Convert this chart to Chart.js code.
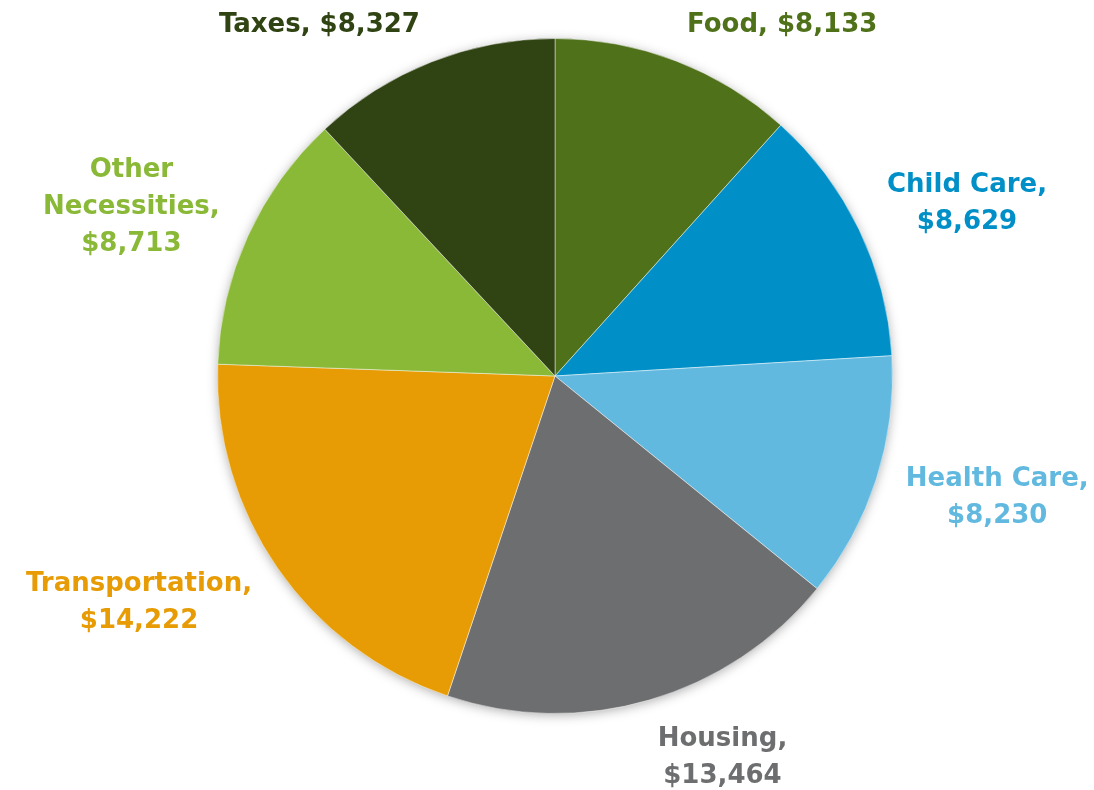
<!DOCTYPE html>
<html>
<head>
<meta charset="utf-8">
<script src="https://cdn.jsdelivr.net/npm/chart.js@4"></script>
<style>
  html, body { margin: 0; padding: 0; background: #fff; }
  #wrap { width: 1094px; height: 790px; position: relative; }
</style>
</head>
<body>
<div id="wrap"><canvas id="pie"></canvas></div>
<script>
// categories & values (clockwise from 12 o'clock)
const categories = ['Food', 'Child Care', 'Health Care', 'Housing', 'Transportation', 'Other Necessities', 'Taxes'];
const amounts = [8133, 8629, 8230, 13464, 14222, 8713, 8327];
// how each label breaks into lines
const labelLines = [
  ['Food, $8,133'],
  ['Child Care,', '$8,629'],
  ['Health Care,', '$8,230'],
  ['Housing,', '$13,464'],
  ['Transportation,', '$14,222'],
  ['Other', 'Necessities,', '$8,713'],
  ['Taxes, $8,327'],
];
const sliceColors = ['#4f7119', '#008fc6', '#62b9e0', '#6d6e70', '#e79c05', '#8ab837', '#304312'];

const FONT = 'bold 26px "DejaVu Sans", Verdana, sans-serif';
const LINE_H = 37;

// soft shadow behind the whole pie
const pieShadow = {
  id: 'pieShadow',
  beforeDatasetsDraw(chart) {
    const arc = chart.getDatasetMeta(0).data[0];
    if (!arc) return;
    const ctx = chart.ctx;
    ctx.save();
    ctx.shadowColor = 'rgba(0,0,0,0.35)';
    ctx.shadowBlur = 12;
    ctx.shadowOffsetY = 2;
    ctx.fillStyle = '#fff';
    ctx.beginPath();
    ctx.arc(arc.x, arc.y, arc.outerRadius - 1, 0, Math.PI * 2);
    ctx.fill();
    ctx.restore();
  }
};

// labels outside the slices, Excel "outside end" style
const outsideLabels = {
  id: 'outsideLabels',
  afterDatasetsDraw(chart) {
    const ctx = chart.ctx;
    const meta = chart.getDatasetMeta(0);
    ctx.save();
    ctx.font = FONT;
    ctx.textBaseline = 'middle';
    ctx.textAlign = 'center';
    meta.data.forEach((arc, i) => {
      const mid = (arc.startAngle + arc.endAngle) / 2;
      const ax = arc.x + Math.cos(mid) * (arc.outerRadius + 31);
      const ay = arc.y + Math.sin(mid) * (arc.outerRadius + 40);
      const lines = labelLines[i];
      const w = Math.max(...lines.map(l => ctx.measureText(l).width));
      const h = lines.length * LINE_H;
      const left = Math.cos(mid) >= 0 ? ax : ax - w;
      const cy = ay + Math.sin(mid) * h / 2 * 0.55;
      const top = Math.max(7, cy - h / 2);
      ctx.fillStyle = sliceColors[i];
      lines.forEach((l, k) => ctx.fillText(l, left + w / 2, top + LINE_H * (k + 0.5)));
    });
    ctx.restore();
  }
};

new Chart(document.getElementById('pie'), {
  type: 'pie',
  data: {
    labels: categories,
    datasets: [{
      data: amounts,
      backgroundColor: sliceColors,
      borderColor: 'rgba(255,255,255,0.45)',
      borderWidth: 1,
    }]
  },
  options: {
    responsive: true,
    maintainAspectRatio: false,
    animation: false,
    layout: { padding: { top: 38, bottom: 76, left: 217, right: 201 } },
    plugins: {
      legend: { display: false },
      tooltip: { enabled: false },
    },
  },
  plugins: [pieShadow, outsideLabels],
});
</script>
</body>
</html>
